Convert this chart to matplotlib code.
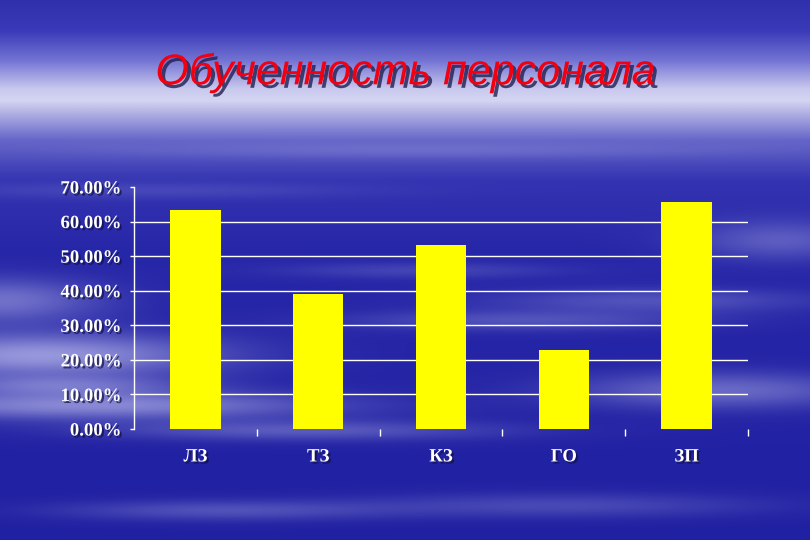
import numpy as np
import matplotlib.pyplot as plt
import matplotlib.patheffects as pe

categories = ['ЛЗ', 'ТЗ', 'КЗ', 'ГО', 'ЗП']
values = [63.3, 39.1, 53.3, 22.9, 65.7]
yticks = [0, 10, 20, 30, 40, 50, 60, 70]
ytick_labels = ['%.2f%%' % v for v in yticks]
title = 'Обученность персонала'

fig = plt.figure(figsize=(8.1, 5.4), dpi=100)

# sky-like slide background: vertical gradient plus a few soft streaks
H, W = 540, 810
key_y = [0, 30, 60, 88, 100, 115, 140, 180, 250, 540]
key_c = np.array([
    (48, 48, 172), (58, 58, 185), (115, 115, 212), (200, 200, 238),
    (212, 212, 242), (170, 170, 225), (100, 100, 200), (52, 52, 178),
    (38, 38, 168), (32, 32, 162)]) / 255.0
rows = np.arange(H)
bg = np.zeros((H, W, 3))
for c in range(3):
    bg[:, :, c] = np.interp(rows, key_y, key_c[:, c])[:, None]

yy, xx = np.mgrid[0:H, 0:W]
streaks = [
    (40, 355, 170, 22, 0.75), (90, 405, 230, 14, 0.65), (0, 300, 100, 22, 0.5),
    (60, 385, 120, 10, 0.4), (720, 390, 150, 18, 0.45), (520, 320, 170, 10, 0.3),
    (300, 430, 200, 10, 0.35), (650, 300, 160, 12, 0.3), (220, 510, 160, 10, 0.3),
    (560, 505, 200, 12, 0.25), (780, 240, 90, 20, 0.35), (420, 150, 300, 8, 0.2),
    (150, 190, 200, 8, 0.15), (420, 270, 140, 8, 0.2),
]
light = np.zeros((H, W))
for cx, cy, sx, sy, a in streaks:
    light += a * np.exp(-((xx - cx) / sx) ** 2 - ((yy - cy) / sy) ** 2)
light = np.clip(light, 0, 0.8)[..., None]
cloud = np.array([0.74, 0.74, 0.93])
bg = bg * (1 - light) + cloud * light

bgax = fig.add_axes([0, 0, 1, 1], zorder=0)
bgax.imshow(bg, aspect='auto', interpolation='bilinear')
bgax.axis('off')

shadow = [pe.withSimplePatchShadow(offset=(1.5, -1.5), shadow_rgbFace='#101040', alpha=0.7)]

fig.text(0.5, 1 - 73 / 540, title, ha='center', va='center', fontsize=31,
         style='italic', family='Liberation Sans', color='#f00010',
         path_effects=[pe.withSimplePatchShadow(offset=(2.5, -2.5), shadow_rgbFace='#202050', alpha=0.8)])

ax = fig.add_axes([134 / 810, 1 - 429 / 540, 614 / 810, 242 / 540], zorder=1)
ax.patch.set_alpha(0)
x = np.arange(len(categories))
ax.bar(x, values, width=0.41, color='#ffff00', zorder=3)
ax.set_xlim(-0.5, 4.5)
ax.set_ylim(0, 70)

ax.set_yticks(yticks)
ax.set_yticklabels(ytick_labels)
ax.yaxis.grid(True, color='white', linewidth=1)
gl = ax.get_ygridlines()
gl[0].set_visible(False)
gl[-1].set_visible(False)
ax.set_axisbelow(True)

ax.set_xticks(x)
ax.set_xticklabels(categories)
ax.set_xticks(list(x + 0.5), minor=True)
ax.tick_params(axis='x', which='major', length=0, pad=14)
ax.tick_params(axis='x', which='minor', length=5, color='white', width=1)
ax.tick_params(axis='y', length=3, color='white', width=1, pad=6)

for lab in ax.get_xticklabels() + ax.get_yticklabels():
    lab.set_family('Liberation Serif')
    lab.set_weight('bold')
    lab.set_color('white')
    lab.set_fontsize(13.5)
    lab.set_path_effects(shadow)

for s in ['top', 'right', 'bottom']:
    ax.spines[s].set_visible(False)
ax.spines['left'].set_color('white')
ax.spines['left'].set_linewidth(1)

fig.savefig('out.png', dpi=100)
